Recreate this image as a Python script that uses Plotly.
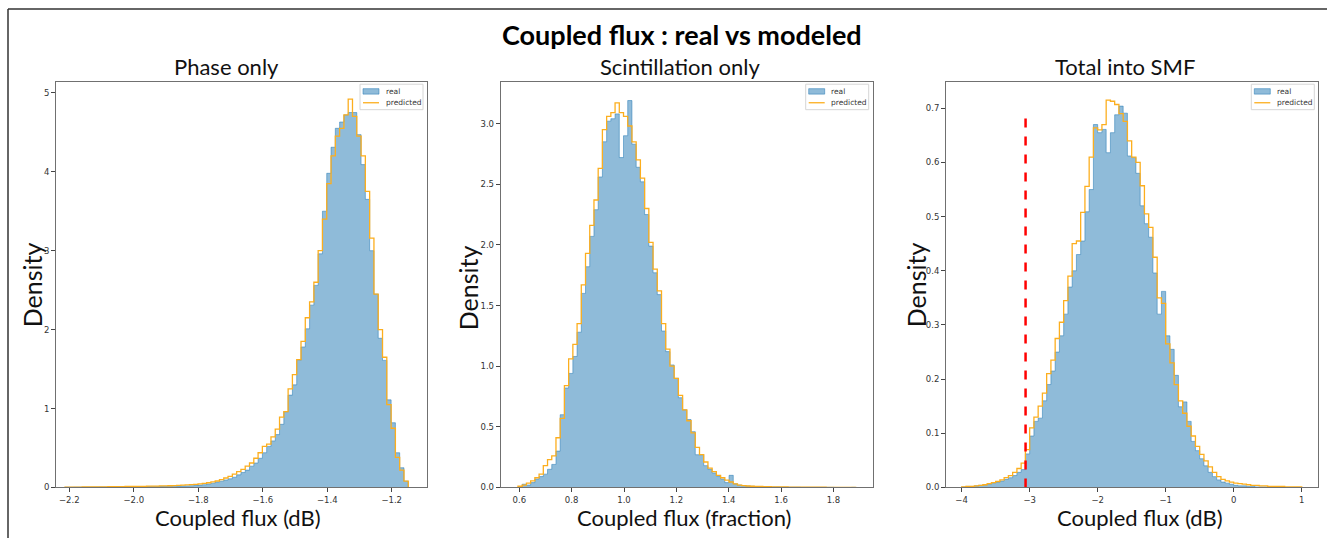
import numpy as np
import plotly.graph_objects as go

# ---------------- data ----------------
phase_bin_start = -2.2134
phase_bin_width = 0.01331
phase_real = [
    0.003, 0.003, 0.004, 0.004, 0.005, 0.005, 0.006, 0.006, 0.007, 0.007,
    0.008, 0.008, 0.009, 0.009, 0.010, 0.010, 0.011, 0.011, 0.012, 0.012,
    0.013, 0.013, 0.014, 0.015, 0.016, 0.017, 0.018, 0.019, 0.020, 0.022,
    0.025, 0.030, 0.035, 0.045, 0.055, 0.070, 0.080, 0.095, 0.110, 0.130,
    0.160, 0.190, 0.220, 0.270, 0.310, 0.370, 0.440, 0.520, 0.590, 0.670,
    0.800, 0.960, 1.170, 1.300, 1.610, 1.780, 2.010, 2.310, 2.560, 2.960,
    3.500, 3.980, 4.310, 4.550, 4.630, 4.720, 4.750, 4.750, 4.470, 4.090,
    3.650, 3.000, 2.450, 1.890, 1.610, 1.110, 0.820, 0.440, 0.250, 0.080]
phase_pred = [
    0.004, 0.004, 0.005, 0.005, 0.006, 0.006, 0.007, 0.007, 0.008, 0.008,
    0.009, 0.009, 0.010, 0.011, 0.012, 0.012, 0.013, 0.014, 0.015, 0.016,
    0.017, 0.018, 0.019, 0.020, 0.022, 0.024, 0.026, 0.029, 0.032, 0.036,
    0.040, 0.045, 0.052, 0.060, 0.070, 0.082, 0.100, 0.120, 0.140, 0.170,
    0.200, 0.230, 0.270, 0.310, 0.370, 0.440, 0.520, 0.550, 0.640, 0.740,
    0.890, 0.960, 1.250, 1.430, 1.620, 1.850, 2.150, 2.350, 2.600, 3.000,
    3.400, 3.850, 4.200, 4.450, 4.550, 4.720, 4.920, 4.700, 4.450, 4.200,
    3.750, 3.160, 2.450, 2.000, 1.650, 1.050, 0.750, 0.380, 0.220, 0.080]

scint_bin_start = 0.595
scint_bin_width = 0.016125
scint_real = [
    0.005, 0.027, 0.020, 0.040, 0.070, 0.090, 0.110, 0.150, 0.190, 0.300,
    0.600, 0.820, 0.940, 1.080, 1.280, 1.600, 1.820, 2.070, 2.290, 2.560,
    2.850, 3.020, 3.040, 3.080, 2.720, 2.900, 3.190, 2.830, 2.640, 2.520,
    2.250, 1.990, 1.770, 1.590, 1.290, 1.120, 1.010, 0.900, 0.740, 0.640,
    0.560, 0.460, 0.270, 0.270, 0.180, 0.150, 0.120, 0.095, 0.070, 0.040,
    0.100, 0.030, 0.020, 0.015, 0.012, 0.010, 0.008, 0.007, 0.006, 0.005,
    0.004, 0.004, 0.003, 0.003, 0.002, 0.002, 0.002, 0.001, 0.001, 0.001,
    0.001, 0.001, 0.001, 0.001, 0.001, 0.000, 0.000, 0.000, 0.000, 0.001]
scint_pred = [
    0.010, 0.020, 0.035, 0.055, 0.080, 0.110, 0.180, 0.230, 0.260, 0.410,
    0.570, 0.840, 1.060, 1.180, 1.350, 1.670, 1.930, 2.160, 2.370, 2.630,
    2.950, 3.060, 3.090, 3.170, 3.090, 3.060, 2.980, 2.850, 2.700, 2.550,
    2.300, 2.020, 1.800, 1.620, 1.350, 1.140, 1.000, 0.900, 0.760, 0.640,
    0.550, 0.450, 0.330, 0.270, 0.210, 0.160, 0.130, 0.100, 0.080, 0.060,
    0.045, 0.030, 0.020, 0.015, 0.012, 0.010, 0.009, 0.008, 0.007, 0.006,
    0.005, 0.005, 0.004, 0.004, 0.003, 0.003, 0.003, 0.002, 0.002, 0.002,
    0.002, 0.002, 0.002, 0.001, 0.001, 0.001, 0.001, 0.001, 0.001, 0.001]

smf_bin_start = -4.0
smf_bin_width = 0.0625
smf_real = [
    0.001, 0.002, 0.002, 0.003, 0.004, 0.005, 0.006, 0.008, 0.010, 0.012,
    0.015, 0.018, 0.022, 0.028, 0.033, 0.062, 0.095, 0.122, 0.128, 0.160,
    0.190, 0.215, 0.250, 0.280, 0.320, 0.370, 0.400, 0.430, 0.455, 0.509,
    0.550, 0.670, 0.655, 0.661, 0.618, 0.655, 0.688, 0.704, 0.691, 0.612,
    0.609, 0.580, 0.520, 0.487, 0.462, 0.396, 0.320, 0.362, 0.280, 0.255,
    0.207, 0.149, 0.158, 0.122, 0.085, 0.068, 0.053, 0.040, 0.028, 0.020,
    0.014, 0.010, 0.008, 0.006, 0.004, 0.003, 0.003, 0.002, 0.002, 0.001,
    0.001, 0.001, 0.001, 0.001, 0.000, 0.000, 0.000, 0.000, 0.000, 0.000]
smf_pred = [
    0.001, 0.002, 0.002, 0.003, 0.004, 0.005, 0.007, 0.009, 0.011, 0.014,
    0.018, 0.022, 0.028, 0.035, 0.045, 0.070, 0.110, 0.130, 0.150, 0.174,
    0.210, 0.235, 0.275, 0.305, 0.345, 0.390, 0.450, 0.455, 0.508, 0.556,
    0.610, 0.664, 0.660, 0.670, 0.715, 0.713, 0.707, 0.690, 0.676, 0.640,
    0.610, 0.600, 0.557, 0.505, 0.480, 0.425, 0.350, 0.340, 0.265, 0.230,
    0.190, 0.160, 0.137, 0.113, 0.095, 0.076, 0.061, 0.049, 0.038, 0.028,
    0.020, 0.015, 0.012, 0.010, 0.008, 0.007, 0.006, 0.005, 0.004, 0.004,
    0.003, 0.003, 0.002, 0.002, 0.002, 0.002, 0.001, 0.001, 0.001, 0.001]

smf_threshold_x = -3.06
smf_threshold_top = 0.69

main_title = "<b>Coupled flux : real vs modeled</b>"
panel_titles = ["Phase only", "Scintillation only", "Total into SMF"]
x_titles = ["Coupled flux (dB)", "Coupled flux (fraction)", "Coupled flux (dB)"]
y_title = "Density"
legend_labels = ["real", "predicted"]

# ---------------- figure ----------------
W, H = 1327, 543
REAL_FILL = "rgba(31,119,180,0.5)"
REAL_EDGE = "rgba(31,119,180,0.5)"
PRED = "#FCAE1E"
TEXT_FONT = "Lato"


def px_x(v):
    return v / W


def px_y(v):
    return 1 - v / H


def step_xy(start, width, heights):
    h = np.asarray(heights, dtype=float)
    edges = start + width * np.arange(len(h) + 1)
    x = np.concatenate([[edges[0]], edges])
    y = np.concatenate([[0.0], h, [0.0]])
    return x, y


fig = go.Figure()

panels = [
    (phase_bin_start, phase_bin_width, phase_real, phase_pred, "x", "y"),
    (scint_bin_start, scint_bin_width, scint_real, scint_pred, "x2", "y2"),
    (smf_bin_start, smf_bin_width, smf_real, smf_pred, "x3", "y3"),
]
for start, width, real, pred, xa, ya in panels:
    xr, yr = step_xy(start, width, real)
    fig.add_trace(go.Scatter(
        x=xr, y=yr, mode="lines", line=dict(shape="hv", color=REAL_EDGE, width=1),
        fill="tozeroy", fillcolor=REAL_FILL, name=legend_labels[0], xaxis=xa, yaxis=ya,
        showlegend=False, hoverinfo="skip"))
    xp, yp = step_xy(start, width, pred)
    fig.add_trace(go.Scatter(
        x=xp, y=yp, mode="lines", line=dict(shape="hv", color=PRED, width=1.3),
        name=legend_labels[1], xaxis=xa, yaxis=ya, showlegend=False, hoverinfo="skip"))

fig.add_trace(go.Scatter(
    x=[smf_threshold_x, smf_threshold_x], y=[0, smf_threshold_top], mode="lines",
    line=dict(color="#ff0000", width=2.5, dash="dash"), showlegend=False,
    xaxis="x3", yaxis="y3", hoverinfo="skip"))

ydom = [px_y(492), px_y(82.5)]
axis_common = dict(showgrid=False, zeroline=False, showline=True, mirror=True,
                   linecolor="#707070", linewidth=1, ticks="outside", ticklen=4,
                   tickcolor="#444", tickfont=dict(family="DejaVu Sans", size=8.5, color="#333"))

axis_px = [(56, 427), (500.7, 872.7), (946, 1318.3)]

fig.update_layout(
    width=W, height=H, autosize=False,
    margin=dict(l=0, r=0, t=0, b=0),
    paper_bgcolor="white", plot_bgcolor="white",
    xaxis=dict(domain=[px_x(56), px_x(427)], range=[-2.2413, -1.0905], tick0=-2.2, dtick=0.2,
               tickformat=".1f", anchor="y", **axis_common),
    yaxis=dict(domain=ydom, range=[0, 5.14], dtick=1, anchor="x", **axis_common),
    xaxis2=dict(domain=[px_x(500.7), px_x(872.7)], range=[0.529, 1.950], tick0=0.6, dtick=0.2,
                tickformat=".1f", anchor="y2", **axis_common),
    yaxis2=dict(domain=ydom, range=[0, 3.345], dtick=0.5, tickformat=".1f", anchor="x2",
                **axis_common),
    xaxis3=dict(domain=[px_x(946), px_x(1318.3)], range=[-4.23, 1.244], dtick=1, anchor="y3",
                **axis_common),
    yaxis3=dict(domain=ydom, range=[0, 0.749], dtick=0.1, tickformat=".1f", anchor="x3",
                **axis_common),
    showlegend=False,
)

ann = []
shapes = []
ann.append(dict(text=main_title, x=px_x(682), y=px_y(35), xref="paper", yref="paper",
                showarrow=False, xanchor="center", yanchor="middle",
                font=dict(family=TEXT_FONT, size=27, color="black")))
for cx, t in zip([226, 680, 1125], panel_titles):
    ann.append(dict(text=t, x=px_x(cx), y=px_y(67.5), xref="paper", yref="paper",
                    showarrow=False, xanchor="center", yanchor="middle",
                    font=dict(family=TEXT_FONT, size=22, color="#111")))
for cx, t in zip([238, 684, 1140], x_titles):
    ann.append(dict(text=t, x=px_x(cx), y=px_y(522), xref="paper", yref="paper",
                    showarrow=False, xanchor="center", yanchor="middle",
                    font=dict(family=TEXT_FONT, size=22, color="#111")))
for cx, cy in zip([32, 468, 916], [288, 291, 288]):
    ann.append(dict(text=y_title, x=px_x(cx), y=px_y(cy), xref="paper", yref="paper",
                    showarrow=False, xanchor="center", yanchor="middle", textangle=-90,
                    font=dict(family=TEXT_FONT, size=25, color="#111")))

# matplotlib-style legend box in the upper right of each panel
for (_, right) in axis_px:
    R = right - 4
    L = R - 63
    T = 85
    B = T + 25.7
    shapes.append(dict(type="rect", xref="paper", yref="paper",
                       x0=px_x(L), x1=px_x(R), y0=px_y(B), y1=px_y(T),
                       line=dict(color="#d6d6d6", width=1), fillcolor="rgba(255,255,255,0.85)"))
    shapes.append(dict(type="rect", xref="paper", yref="paper",
                       x0=px_x(L + 3), x1=px_x(L + 19), y0=px_y(T + 10), y1=px_y(T + 4.5),
                       line=dict(color=REAL_EDGE, width=1), fillcolor=REAL_FILL))
    shapes.append(dict(type="line", xref="paper", yref="paper",
                       x0=px_x(L + 3), x1=px_x(L + 19), y0=px_y(T + 18.7), y1=px_y(T + 18.7),
                       line=dict(color=PRED, width=1.3)))
    for lab, ty in zip(legend_labels, [T + 7.3, T + 18.7]):
        ann.append(dict(text=lab, x=px_x(L + 23.5), y=px_y(ty), xref="paper", yref="paper",
                        showarrow=False, xanchor="left", yanchor="middle",
                        font=dict(family="DejaVu Sans", size=7.5, color="#333")))

# slide frame lines
shapes.append(dict(type="line", xref="paper", yref="paper", x0=px_x(8), x1=1,
                   y0=px_y(9), y1=px_y(9), line=dict(color="#333", width=1.5)))
shapes.append(dict(type="line", xref="paper", yref="paper", x0=px_x(8), x1=px_x(8),
                   y0=0, y1=px_y(9), line=dict(color="#333", width=1.5)))

fig.update_layout(annotations=ann, shapes=shapes)

fig.write_html("out.html")
